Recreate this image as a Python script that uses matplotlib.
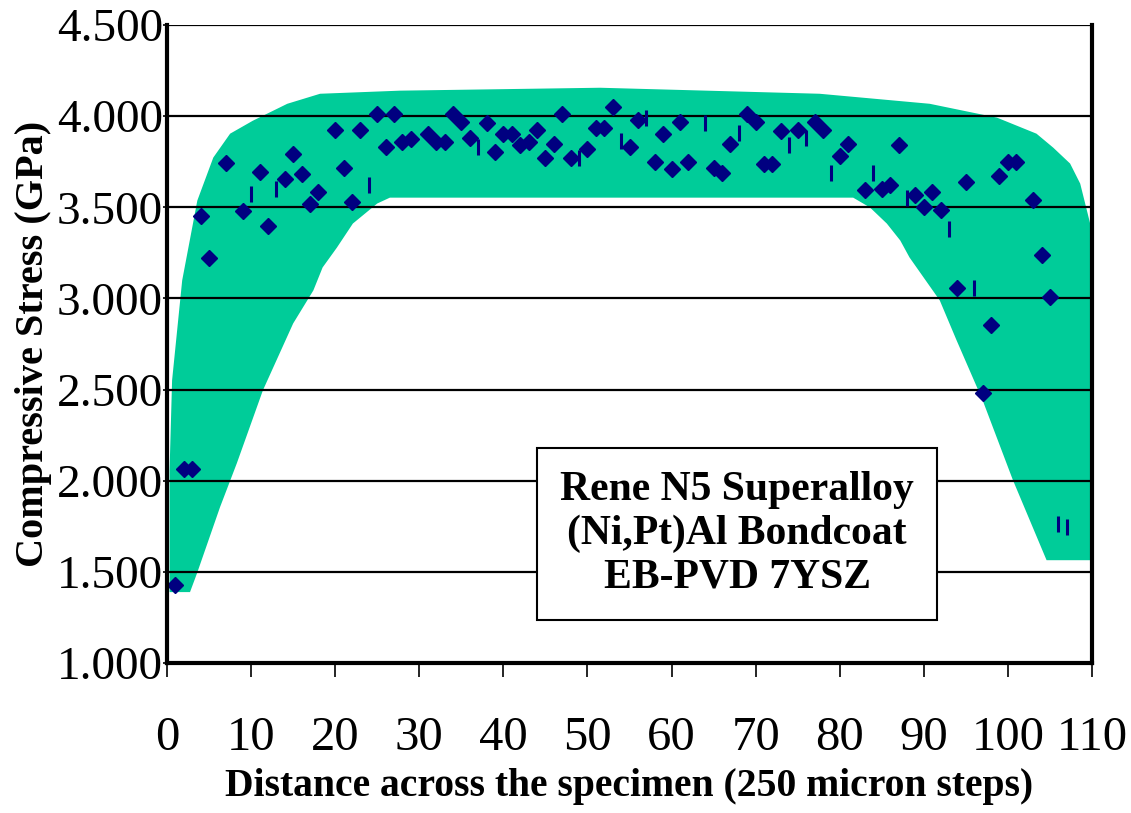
import matplotlib
matplotlib.use('Agg')
import matplotlib.pyplot as plt

# Fonts: Times-like serif everywhere
plt.rcParams['font.family'] = ['Liberation Serif', 'DejaVu Serif']

# Measured stress, diamond series (step, GPa)
diamond_x = [1, 2, 3, 4, 5, 7, 9, 11, 12, 14, 15, 16, 17, 18, 20, 21, 22, 23, 25, 26,
             27, 28, 29, 31, 32, 33, 34, 35, 36, 38, 39, 40, 41, 42, 43, 44, 45, 46, 47, 48,
             50, 51, 52, 53, 55, 56, 58, 59, 60, 61, 62, 65, 66, 67, 69, 70, 71, 72, 73, 75,
             77, 78, 80, 81, 83, 85, 86, 87, 89, 90, 91, 92, 94, 95, 97, 98, 99, 100, 101, 103,
             104, 105]
diamond_y = [1.43, 2.063, 2.063, 3.45, 3.22, 3.745, 3.482, 3.696, 3.40, 3.658, 3.795, 3.685, 3.52, 3.586, 3.926, 3.718, 3.53, 3.926, 4.014, 3.83,
             4.014, 3.86, 3.877, 3.90, 3.86, 3.86, 4.01, 3.97, 3.88, 3.96, 3.805, 3.90, 3.90, 3.84, 3.86, 3.926, 3.773, 3.85, 4.014, 3.773,
             3.82, 3.937, 3.937, 4.052, 3.833, 3.98, 3.75, 3.90, 3.71, 3.97, 3.75, 3.718, 3.69, 3.845, 4.014, 3.97, 3.74, 3.74, 3.92, 3.926,
             3.97, 3.926, 3.78, 3.845, 3.597, 3.60, 3.62, 3.84, 3.57, 3.50, 3.586, 3.488, 3.06, 3.64, 2.48, 2.857, 3.67, 3.75, 3.75, 3.54,
             3.236, 3.006]

# Second series drawn as short vertical bars
dash_x = [10, 13, 24, 37, 49, 54, 57, 64, 68, 74, 76, 79, 84, 88, 93, 96, 106, 107]
dash_y = [3.575, 3.603, 3.62, 3.83, 3.773, 3.866, 3.99, 3.96, 3.91, 3.84, 3.88, 3.69, 3.69, 3.553, 3.38, 3.06, 1.76, 1.745]

# Shaded band: upper edge (left to right), lower edge (right to left)
band_upper_x = [0.3, 0.3, 0.6, 1.8, 3.6, 5.5, 7.5, 10.2, 14.3, 18.2, 27.7, 51.5, 77.6, 90.7, 98.7, 103.4, 105.4, 107.4, 108.6, 109.4, 110, 110]
band_upper_y = [1.389, 2.058, 2.551, 3.099, 3.537, 3.773, 3.904, 3.975, 4.068, 4.123, 4.140, 4.156, 4.123, 4.068, 3.992, 3.904, 3.827, 3.740, 3.630, 3.482, 3.37, 1.564]
band_lower_x = [104.6, 100.6, 97.0, 93.9, 91.9, 88.3, 87.2, 85.6, 83.6, 81.6, 26.5, 25.0, 22.1, 20.2, 18.5, 17.4, 15.0, 11.4, 8.3, 6.3, 3.57, 2.73]
band_lower_y = [1.564, 2.003, 2.441, 2.770, 2.989, 3.225, 3.318, 3.411, 3.499, 3.553, 3.553, 3.521, 3.411, 3.279, 3.170, 3.044, 2.863, 2.496, 2.096, 1.855, 1.493, 1.389]

x_ticks = [0, 10, 20, 30, 40, 50, 60, 70, 80, 90, 100, 110]
y_ticks = [1.0, 1.5, 2.0, 2.5, 3.0, 3.5, 4.0, 4.5]
box_lines = ['Rene N5 Superalloy', '(Ni,Pt)Al Bondcoat', 'EB-PVD 7YSZ']

fig = plt.figure(figsize=(11.31, 8.13), dpi=100)
ax = fig.add_axes([0.1477, 0.1845, 0.8178, 0.7847])

# Band
ax.fill(band_upper_x + band_lower_x, band_upper_y + band_lower_y,
        color='#00CC99', linewidth=0, zorder=1)

# Gridlines over the band
ax.set_yticks(y_ticks)
ax.yaxis.grid(True, color='black', linewidth=1.6, zorder=2)
ax.set_axisbelow(False)

# Points
ax.plot(diamond_x, diamond_y, 'D', color='#000080', markersize=8, zorder=4)
ax.plot(dash_x, dash_y, '|', color='#000080', markersize=11, markeredgewidth=2.2, zorder=4)

ax.set_xlim(0, 110)
ax.set_ylim(1.0, 4.5)
ax.set_xticks(x_ticks)
ax.set_xticklabels([str(v) for v in x_ticks])
ax.set_yticklabels(['%.3f' % v for v in y_ticks])

# Spines
ax.spines['top'].set_visible(False)
for s in ['left', 'bottom', 'right']:
    ax.spines[s].set_linewidth(3)
    ax.spines[s].set_zorder(5)

ax.tick_params(axis='x', direction='out', length=10, width=1.2, pad=28, labelsize=35)
ax.tick_params(axis='y', direction='out', length=3, width=1.2, pad=0, labelsize=34)

ax.set_xlabel('Distance across the specimen (250 micron steps)', fontsize=28.5,
              fontweight='bold', labelpad=6)
ax.set_ylabel('Compressive Stress (GPa)', fontsize=29, fontweight='bold')
ax.yaxis.set_label_coords(-0.124, 0.5)

# Annotation box
ax.text(67.8, 1.71, '\n'.join(box_lines), fontsize=30, fontweight='bold',
        ha='center', va='center', linespacing=1.2, zorder=6,
        bbox=dict(boxstyle='square,pad=0.55', facecolor='white', edgecolor='black', linewidth=1.5))

fig.savefig('out.png', dpi=100)
